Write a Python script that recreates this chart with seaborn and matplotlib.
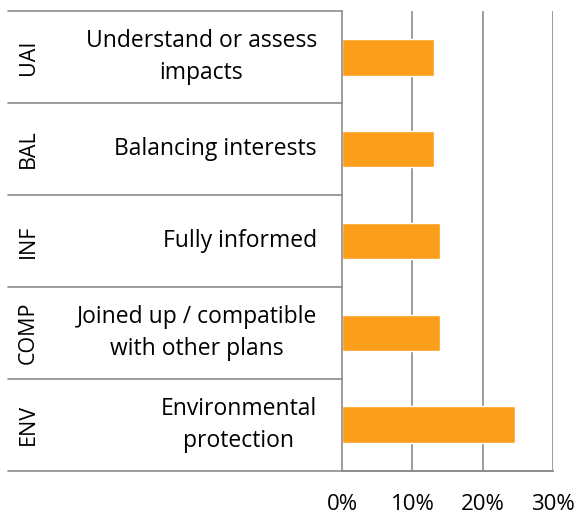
import pandas as pd
import matplotlib
matplotlib.use('Agg')
import matplotlib.pyplot as plt
import matplotlib.transforms as mtransforms
import seaborn as sns

# Data
codes = ['UAI', 'BAL', 'INF', 'COMP', 'ENV']
labels = ['Understand or assess\nimpacts', 'Balancing interests', 'Fully informed',
          'Joined up / compatible\nwith other plans', 'Environmental\nprotection']
shares = [13.1, 13.1, 13.9, 13.9, 24.6]
x_ticks = [0, 10, 20, 30]
x_tick_labels = ['0%', '10%', '20%', '30%']

BAR_COLOR = '#FD9E1B'
LINE_COLOR = '#8C8C8C'
FONT = 'Open Sans'

sns.set_theme(style='white')
plt.rcParams['font.family'] = [FONT, 'DejaVu Sans']

df = pd.DataFrame({'code': codes, 'label': labels, 'share': shares})

W, H = 578, 515
fig = plt.figure(figsize=(W / 100, H / 100), dpi=100)
ax = fig.add_axes([342 / W, 1 - 470.7 / H, (553.3 - 342) / W, (470.7 - 11.3) / H])

sns.barplot(data=df, x='share', y='code', orient='h', color=BAR_COLOR,
            saturation=1, width=0.4, ax=ax)

ax.set_xlim(0, 30)
ax.set_ylim(len(codes) - 0.5, -0.5)
ax.set_xticks(x_ticks)
ax.set_xticklabels(x_tick_labels, fontsize=16, color='#000000')
ax.set_yticks([])
ax.set_xlabel('')
ax.set_ylabel('')
ax.tick_params(axis='x', length=5.5, width=1.2, color=LINE_COLOR, pad=11, direction='out')

for side in ['top', 'right']:
    ax.spines[side].set_visible(False)
for side in ['left', 'bottom']:
    ax.spines[side].set_color(LINE_COLOR)
    ax.spines[side].set_linewidth(1.2)

# vertical gridlines
for t in x_ticks[1:]:
    ax.axvline(t, color=LINE_COLOR, lw=1.2, zorder=0)

# category table on the left
left = (8 - 342) / (553.3 - 342)
for i in range(len(codes)):
    ax.axhline(i - 0.5, xmin=left, xmax=0, color=LINE_COLOR, lw=1.2, clip_on=False)
ax.axhline(len(codes) - 0.5, xmin=left, xmax=1, color=LINE_COLOR, lw=1.2, clip_on=False)

trans = mtransforms.blended_transform_factory(fig.transFigure, ax.transData)
for i, (code, lab) in enumerate(zip(codes, labels)):
    ax.text(28 / W, i, code, transform=trans, rotation=90, ha='center', va='center',
            fontsize=15.5, color='#000000')
    ax.text(317 / W, i, lab, transform=trans, ha='right', va='center',
            multialignment='center', fontsize=16.5, color='#000000', linespacing=1.45)

fig.savefig('out.png', dpi=100)
